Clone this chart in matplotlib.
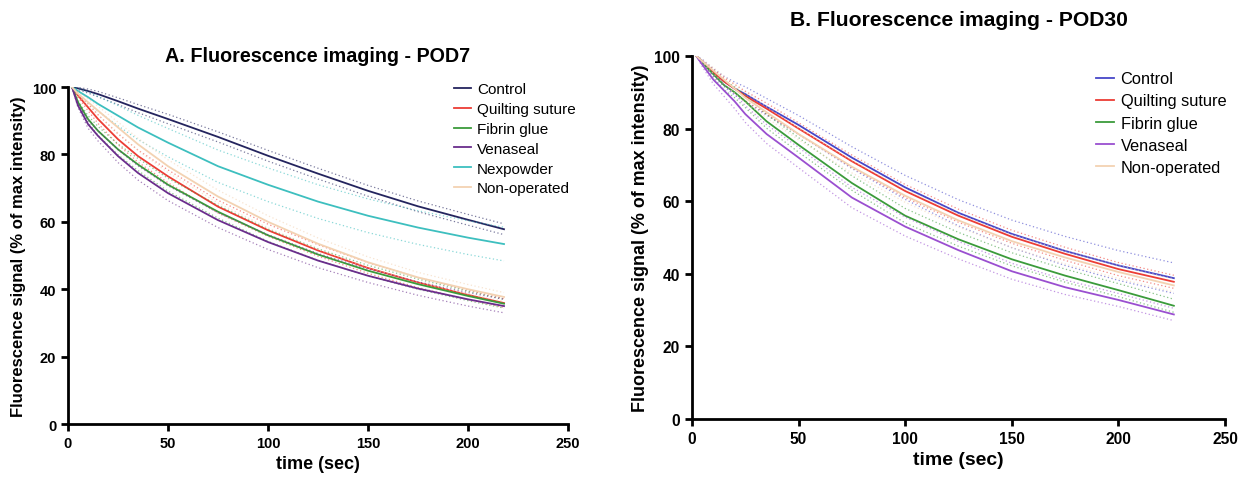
import matplotlib
matplotlib.use('Agg')
import matplotlib.pyplot as plt

plt.rcParams['font.family'] = ['Liberation Sans', 'DejaVu Sans']

# ---- panel A: POD7 ----
t_a = [2, 5, 10, 15, 25, 35, 50, 75, 100, 125, 150, 175, 200, 218]
control_a = [100, 99.6, 98.8, 97.9, 95.8, 93.6, 90.5, 85.2, 79.6, 74.3, 69.2, 64.6, 60.6, 57.8]
quilting_a = [100, 97.5, 94, 90.5, 84.5, 79.5, 73.5, 64.5, 57.5, 51.5, 46.3, 42, 38.3, 35.9]
fibrin_a = [100, 95.5, 90.5, 87, 81.5, 77, 71, 63, 56, 50.3, 45.5, 41.5, 38, 35.7]
venaseal_a = [100, 94.5, 89, 85.5, 79.5, 74.5, 68.5, 60.5, 54, 48.5, 44, 40.2, 37, 35]
nexpowder_a = [100, 98.8, 97, 95, 91.5, 88, 83.5, 76.5, 71, 66, 61.8, 58.3, 55.3, 53.4]
nonop_a = [100, 98, 95.5, 93, 88, 83, 76.5, 67.5, 60, 53.5, 48, 43.5, 40, 37.7]

# half-width of the dotted bands
control_a_ci = [0, 0.3, 0.6, 0.8, 1.0, 1.2, 1.4, 1.5, 1.6, 1.6, 1.6, 1.6, 1.6, 1.6]
quilting_a_ci = [0, 0.5, 1.0, 1.3, 1.6, 1.8, 1.9, 1.9, 1.8, 1.7, 1.6, 1.5, 1.4, 1.3]
fibrin_a_ci = [0, 0.5, 1.0, 1.3, 1.6, 1.8, 1.9, 1.9, 1.8, 1.7, 1.6, 1.5, 1.4, 1.3]
venaseal_a_ci = [0, 0.6, 1.2, 1.5, 1.9, 2.1, 2.2, 2.2, 2.2, 2.1, 2.0, 2.0, 2.0, 2.0]
nexpowder_a_ci = [0, 0.8, 1.6, 2.2, 3.0, 3.6, 4.2, 4.8, 5.0, 5.0, 5.0, 5.0, 5.0, 5.0]
nonop_a_ci = [0, 0.5, 1.0, 1.3, 1.6, 1.8, 1.9, 1.9, 1.8, 1.7, 1.6, 1.5, 1.4, 1.3]

# ---- panel B: POD30 ----
t_b = [2, 5, 10, 15, 20, 25, 35, 50, 75, 100, 125, 150, 175, 200, 226]
control_b = [100, 98.5, 95.5, 93, 91, 89.5, 86, 81, 72, 63.8, 56.8, 51, 46.3, 42.3, 38.8]
quilting_b = [100, 98.3, 95.5, 93, 91, 89, 85.5, 80, 71, 62.8, 56, 50.2, 45.5, 41.3, 37.8]
fibrin_b = [100, 98, 95, 92, 90, 87.5, 82, 75.5, 65, 56, 49.5, 44, 39.5, 35.5, 31.2]
venaseal_b = [100, 97.5, 93.5, 90.5, 87.5, 84, 78.5, 72, 61, 53, 46.5, 40.7, 36.3, 32.8, 28.8]
nonop_b = [100, 98.5, 96, 93.5, 91, 88.5, 84.5, 78.5, 69.5, 61.5, 54.7, 49, 44.5, 40.5, 36.8]

control_b_ci = [0, 0.5, 1.0, 1.4, 1.8, 2.0, 2.3, 2.6, 3.0, 3.3, 3.6, 3.8, 4.0, 4.1, 4.2]
quilting_b_ci = [0, 0.4, 0.8, 1.0, 1.2, 1.3, 1.5, 1.6, 1.7, 1.8, 1.8, 1.8, 1.8, 1.8, 1.8]
fibrin_b_ci = [0, 0.5, 1.0, 1.3, 1.5, 1.7, 1.9, 2.0, 2.0, 2.0, 1.9, 1.8, 1.8, 1.8, 1.8]
venaseal_b_ci = [0, 0.6, 1.2, 1.6, 2.0, 2.3, 2.6, 2.8, 2.8, 2.6, 2.4, 2.2, 2.0, 1.8, 1.7]
nonop_b_ci = [0, 0.4, 0.8, 1.0, 1.2, 1.3, 1.5, 1.6, 1.7, 1.8, 1.8, 1.8, 1.8, 1.8, 1.8]

series_a = [
    ('Control', control_a, control_a_ci, '#24245e'),
    ('Quilting suture', quilting_a, quilting_a_ci, '#ec3d35'),
    ('Fibrin glue', fibrin_a, fibrin_a_ci, '#3b9b3b'),
    ('Venaseal', venaseal_a, venaseal_a_ci, '#6a2d8c'),
    ('Nexpowder', nexpowder_a, nexpowder_a_ci, '#3dbfbf'),
    ('Non-operated', nonop_a, nonop_a_ci, '#f3d2b2'),
]
series_b = [
    ('Control', control_b, control_b_ci, '#4646c8'),
    ('Quilting suture', quilting_b, quilting_b_ci, '#ec3d35'),
    ('Fibrin glue', fibrin_b, fibrin_b_ci, '#3b9b3b'),
    ('Venaseal', venaseal_b, venaseal_b_ci, '#9a4fd0'),
    ('Non-operated', nonop_b, nonop_b_ci, '#f3d2b2'),
]


def draw(ax, t, series, title, title_pad, legend_anchor, spacing, scale):
    for name, vals, ci, color in series:
        hi = [v + c for v, c in zip(vals, ci)]
        lo = [v - c for v, c in zip(vals, ci)]
        ax.plot(t, hi, ls=(0, (1, 2)), lw=0.9, color=color, alpha=0.6)
        ax.plot(t, lo, ls=(0, (1, 2)), lw=0.9, color=color, alpha=0.6)
        ax.plot(t, vals, lw=1.3, color=color, label=name)
    ax.set_xlim(0, 250)
    ax.set_ylim(0, 100)
    ax.set_xticks([0, 50, 100, 150, 200, 250])
    ax.set_yticks([0, 20, 40, 60, 80, 100])
    for s in ['top', 'right']:
        ax.spines[s].set_visible(False)
    for s in ['left', 'bottom']:
        ax.spines[s].set_linewidth(2)
    ax.tick_params(width=2, length=5, labelsize=10.5 * scale)
    for lab in ax.get_xticklabels() + ax.get_yticklabels():
        lab.set_fontweight('bold')
    ax.set_xlabel('time (sec)', fontsize=13 * scale, fontweight='bold', labelpad=4)
    ax.set_ylabel('Fluorescence signal (% of max intensity)', fontsize=12 * scale,
                  fontweight='bold')
    ax.set_title(title, fontsize=14.2 * scale, fontweight='bold', pad=title_pad)
    ax.legend(loc='upper left', bbox_to_anchor=legend_anchor, frameon=False,
              fontsize=11 * scale, handlelength=1.1, handletextpad=0.4,
              labelspacing=spacing, borderaxespad=0, borderpad=0)


fig = plt.figure(figsize=(12.5, 4.81), dpi=100)
ax1 = fig.add_axes([0.0544, 0.1164, 0.4, 0.7006])
ax2 = fig.add_axes([0.5536, 0.1268, 0.4264, 0.7547])

draw(ax1, t_a, series_a, 'A. Fluorescence imaging - POD7', 18.5, (0.772, 1.014), 0.38, 1.0)
draw(ax2, t_b, series_b, 'B. Fluorescence imaging - POD30', 22, (0.758, 0.958), 0.44, 1.07)

fig.savefig('out.png', dpi=100)
